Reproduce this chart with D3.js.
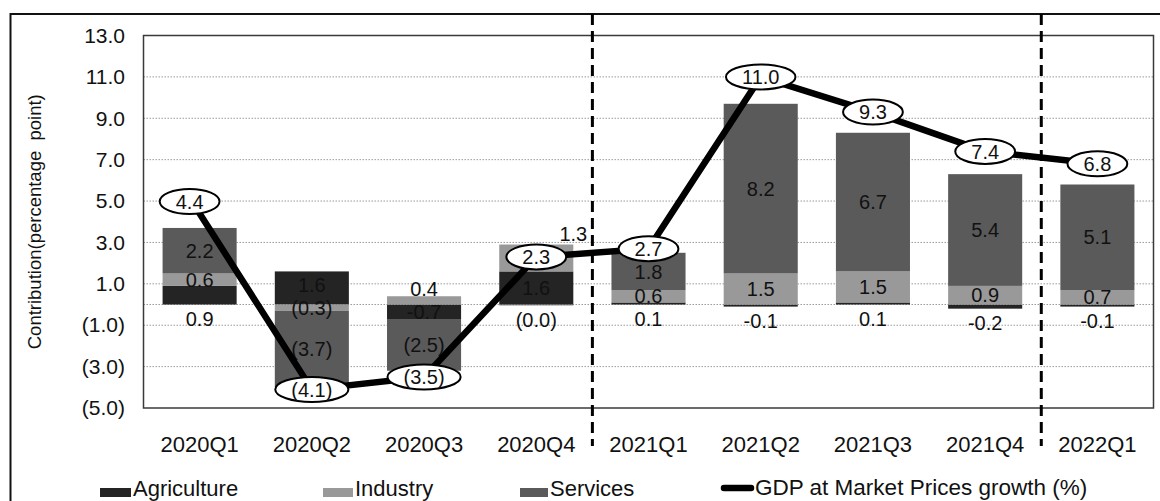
<!DOCTYPE html>
<html>
<head>
<meta charset="utf-8">
<script src="https://cdn.jsdelivr.net/npm/d3@7"></script>
<style>
  html, body { margin: 0; padding: 0; background: #fff; }
  svg { display: block; font-family: "Liberation Sans", Arial, sans-serif; }
</style>
</head>
<body>
<svg id="chart" width="1160" height="501"></svg>
<script>
// ---- data ----
const categories = ["2020Q1","2020Q2","2020Q3","2020Q4","2021Q1","2021Q2","2021Q3","2021Q4","2022Q1"];
const agriculture = [0.9, 1.6, -0.7, 1.6, 0.1, -0.1, 0.1, -0.2, -0.1];
const industry    = [0.6, -0.3, 0.4, 1.3, 0.6, 1.5, 1.5, 0.9, 0.7];
const services    = [2.2, -3.7, -2.5, -0.04, 1.8, 8.2, 6.7, 5.4, 5.1];
const gdpGrowth   = [4.4, -4.1, -3.5, 2.3, 2.7, 11.0, 9.3, 7.4, 6.8];
const yTicks      = [-5, -3, -1, 1, 3, 5, 7, 9, 11, 13];
const seriesNames = ["Agriculture", "Industry", "Services"];
const lineName    = "GDP at Market Prices growth (%)";
const yTitle      = "Contribution(percentage  point)";
const dividerAfter = ["2020Q4", "2021Q4"];

// ---- styles ----
const colors = { Agriculture: "#242424", Industry: "#999999", Services: "#5a5a5a" };
const W = 1160, H = 501;
const margin = { left: 143.5, right: 1153.5, top: 35.5, bottom: 408 };
const LABEL_SIZE = 20;
const MIN_GAP = 23;

const svg = d3.select("#chart");

const rows = categories.map((c, i) => ({
  cat: c, Agriculture: agriculture[i], Industry: industry[i], Services: services[i], gdp: gdpGrowth[i]
}));

const x = d3.scaleBand().domain(categories)
  .range([margin.left, margin.right]).paddingInner(0.34).paddingOuter(0.17);
const y = d3.scaleLinear().domain([-5, 13]).range([margin.bottom, margin.top]);

const fmtParen = v => {
  const s = Math.abs(v).toFixed(1);
  return v < 0 ? "(" + s + ")" : s;
};
const fmtMinus = v => (v < 0 ? "-" : "") + Math.abs(v).toFixed(1);

// outer frame
svg.append("path").attr("d", `M10.5,${H} V14 H${W}`)
  .attr("fill", "none").attr("stroke", "#111").attr("stroke-width", 2);

// gridlines
svg.append("g").selectAll("line").data(yTicks.filter(t => t > -5 && t < 13).concat([0]))
  .join("line")
  .attr("x1", margin.left).attr("x2", margin.right)
  .attr("y1", d => y(d)).attr("y2", d => y(d))
  .attr("stroke", "#9a9a9a").attr("stroke-width", 1).attr("stroke-dasharray", "1.5,1.5");

// y axis labels
const yAxis = d3.axisLeft(y).tickValues(yTicks).tickFormat(fmtParen).tickSize(0).tickPadding(0);
const yg = svg.append("g").attr("transform", `translate(125,0)`).call(yAxis);
yg.select(".domain").remove();
yg.selectAll("text").attr("font-size", 21).attr("fill", "#111")
  .attr("font-family", "Liberation Sans, Arial, sans-serif");

// y title
svg.append("text")
  .attr("transform", `translate(41,${(margin.top + margin.bottom) / 2}) rotate(-90)`)
  .attr("text-anchor", "middle").attr("font-size", 18.5).attr("fill", "#111")
  .style("white-space", "pre").text(yTitle);

// x axis labels
const xAxis = d3.axisBottom(x).tickSize(0).tickPadding(0);
const xg = svg.append("g").attr("transform", `translate(0,436)`).call(xAxis);
xg.select(".domain").remove();
xg.selectAll("text").attr("font-size", 22).attr("fill", "#111").attr("dy", "0.71em")
  .attr("font-family", "Liberation Sans, Arial, sans-serif");

// stacked bars
const stack = d3.stack().keys(seriesNames).offset(d3.stackOffsetDiverging);
const stacked = stack(rows);

const barG = svg.append("g");
stacked.forEach(s => {
  barG.selectAll(null).data(s).join("rect")
    .attr("x", d => x(d.data.cat))
    .attr("width", x.bandwidth())
    .attr("y", d => y(Math.max(d[0], d[1])))
    .attr("height", d => Math.abs(y(d[0]) - y(d[1])))
    .attr("fill", colors[s.key]);
});

// plot border
svg.append("rect")
  .attr("x", margin.left).attr("y", margin.top)
  .attr("width", margin.right - margin.left).attr("height", margin.bottom - margin.top)
  .attr("fill", "none").attr("stroke", "#3a3a3a").attr("stroke-width", 1.5);

// GDP bubble position helper
const gdpPos = (d, i) => {
  let px = x(d.cat) + x.bandwidth() / 2, py = y(d.gdp);
  if (i === 0) { px -= 10; py -= 12; } // first label sits above-left of its point
  return [px, py];
};

// bar value labels: compute positions per category
const y0 = y(0);
const labels = [];
categories.forEach((cat, i) => {
  const group = [];
  stacked.forEach(s => {
    const d = s[i];
    const v = d.data[s.key];
    const lo = Math.min(d[0], d[1]), hi = Math.max(d[0], d[1]);
    let ly = (y(lo) + y(hi)) / 2;
    let lx = x(cat) + x.bandwidth() / 2;
    const txt = s.key === "Agriculture" ? fmtMinus(v) : fmtParen(v);
    let moved = false;
    if (s.key === "Industry") {
      if (v > 0 && v < 0.5) { ly = y(hi) - 4; moved = true; }
    } else {
      const small = Math.abs(v) < 0.5 || (s.key === "Agriculture" && v > 0 && v < 1);
      if (small) { ly = y(Math.min(0, lo)) + 14; moved = true; }
    }
    const [gx, gy] = gdpPos(d.data, i);
    let aside = false;
    if (!moved && Math.abs(ly - gy) < 14 && Math.abs(lx - gx) < 30) {
      lx = x(cat) + x.bandwidth();
      ly = y(hi) - 11;
      aside = true;
    }
    group.push({ lx, ly, txt, aside });
  });
  // separate labels stacked in the same column
  const col = group.filter(g => !g.aside).sort((a, b) => a.ly - b.ly);
  for (let k = 0; k < col.length - 1; k++) {
    const a = col[k], b = col[k + 1];
    const gap = b.ly - a.ly;
    if (gap < MIN_GAP) {
      const need = MIN_GAP - gap;
      if (Math.abs(a.ly - y0) >= Math.abs(b.ly - y0)) a.ly -= need; else b.ly += need;
    }
  }
  labels.push(...group);
});

svg.append("g").attr("font-size", LABEL_SIZE).attr("fill", "#111").attr("text-anchor", "middle")
  .selectAll("text").data(labels).join("text")
  .attr("x", d => d.lx).attr("y", d => d.ly).attr("dy", "0.36em").text(d => d.txt);

// GDP line
const line = d3.line().x(d => x(d.cat) + x.bandwidth() / 2).y(d => y(d.gdp));
svg.append("path").datum(rows).attr("d", line)
  .attr("fill", "none").attr("stroke", "#000").attr("stroke-width", 6.5)
  .attr("stroke-linejoin", "round").attr("stroke-linecap", "round");

// GDP labels in ellipses
const bubbleG = svg.append("g");
rows.forEach((d, i) => {
  const [px, py] = gdpPos(d, i);
  const g = bubbleG.append("g").attr("transform", `translate(${px},${py})`);
  const t = g.append("text").attr("text-anchor", "middle").attr("dy", "0.36em")
    .attr("font-size", LABEL_SIZE).attr("fill", "#111").text(fmtParen(d.gdp));
  const tw = t.node().getComputedTextLength();
  g.insert("ellipse", "text").attr("rx", tw / 2 + 16).attr("ry", 12.5)
    .attr("fill", "#fff").attr("stroke", "#000").attr("stroke-width", 2);
});

// dashed year dividers
dividerAfter.forEach(c => {
  const idx = categories.indexOf(c);
  const xd = x(categories[idx]) + x.bandwidth() + (x.step() - x.bandwidth()) / 2;
  svg.append("line").attr("x1", xd).attr("x2", xd).attr("y1", 14).attr("y2", 446)
    .attr("stroke", "#000").attr("stroke-width", 3).attr("stroke-dasharray", "11,6");
});

// legend
const legend = svg.append("g").attr("font-size", 22).attr("fill", "#111");
const legendItems = [
  { name: "Agriculture", x: 100, w: 31 },
  { name: "Industry", x: 323, w: 30 },
  { name: "Services", x: 520, w: 28 }
];
legendItems.forEach(it => {
  legend.append("rect").attr("x", it.x).attr("y", 488).attr("width", it.w).attr("height", 9)
    .attr("fill", colors[it.name]);
  legend.append("text").attr("x", it.x + it.w + 2).attr("y", 496).text(it.name);
});
legend.append("line").attr("x1", 724).attr("x2", 751).attr("y1", 488).attr("y2", 488)
  .attr("stroke", "#000").attr("stroke-width", 6.5).attr("stroke-linecap", "round");
legend.append("text").attr("x", 755).attr("y", 495).attr("font-size", 22.5).text(lineName);
</script>
</body>
</html>
